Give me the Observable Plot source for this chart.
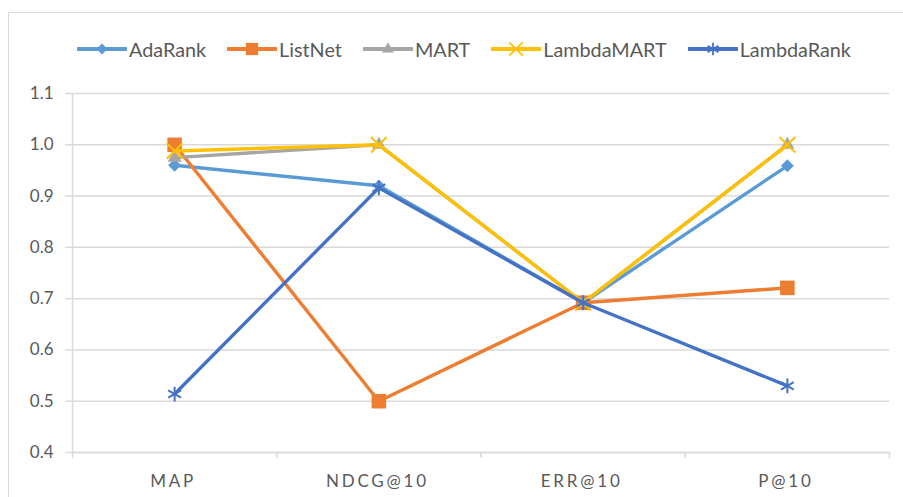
<!DOCTYPE html>
<html>
<head>
<meta charset="utf-8">
<script src="https://cdn.jsdelivr.net/npm/d3@7"></script>
<script src="https://cdn.jsdelivr.net/npm/@observablehq/plot@0.6"></script>
<style>
  html, body { margin: 0; padding: 0; background: #fff; }
  body { width: 903px; height: 497px; overflow: hidden; position: relative; font-family: Lato, "Open Sans", sans-serif; }
  #frame { position: absolute; left: 8px; top: 12px; width: 1000px; height: 1000px; border: 1.5px solid #d9d9d9; box-sizing: border-box; }
  #legend { position: absolute; left: 77px; top: 35px; height: 28px; display: flex; align-items: center; gap: 21px; font-size: 19.8px; color: #595959; }
  .item { display: flex; align-items: center; gap: 2px; }
  #chart { position: absolute; left: 0; top: 70px; }
  #chart g[aria-label="x-axis tick label"] text { letter-spacing: 2.8px; }
</style>
</head>
<body>
<div id="frame"></div>
<div id="legend"></div>
<div id="chart"></div>
<script>
const categories = ["MAP", "NDCG@10", "ERR@10", "P@10"];
const seriesNames = ["AdaRank", "ListNet", "MART", "LambdaMART", "LambdaRank"];
const adaRank    = [0.960, 0.920, 0.692, 0.959];
const listNet    = [1.000, 0.500, 0.692, 0.721];
const mart       = [0.975, 1.000, 0.692, 1.000];
const lambdaMART = [0.988, 1.000, 0.692, 1.000];
const lambdaRank = [0.514, 0.916, 0.692, 0.530];
const yTicks = [0.4, 0.5, 0.6, 0.7, 0.8, 0.9, 1.0, 1.1];

const colors  = ["#5B9BD5", "#ED7D31", "#A5A5A5", "#FFC000", "#4472C4"];
const symbols = ["diamond2", "square", "triangle", "times", "asterisk"];
const radii   = [5.8, 8.2, 5.2, 7.2, 7];
const filled  = [true, true, true, false, false];

const valueArrays = [adaRank, listNet, mart, lambdaMART, lambdaRank];
const data = [];
seriesNames.forEach((s, si) => {
  valueArrays[si].forEach((v, ci) => data.push({series: s, idx: ci, cat: categories[ci], value: v}));
});

const grid = "#d9d9d9";
const boundaries = d3.range(categories.length + 1).map(i => i - 0.5);

const marks = [
  Plot.gridY(yTicks, {stroke: grid, strokeOpacity: 1, strokeWidth: 1.5}),
  Plot.axisY({ticks: yTicks, tickFormat: d3.format(".1f"), tickSize: 7, tickPadding: 12, stroke: grid, strokeOpacity: 1, strokeWidth: 1.5, fontSize: 17, fill: "#595959", label: null}),
  Plot.ruleX([-0.5], {y1: 0.4, y2: 1.1, stroke: grid, strokeWidth: 1.5}),
  Plot.ruleY([0.4], {stroke: grid, strokeWidth: 1.5}),
  Plot.axisX({ticks: boundaries, tickFormat: () => "", tickSize: 6, stroke: grid, strokeOpacity: 1, strokeWidth: 1.5, label: null}),
  Plot.axisX({ticks: d3.range(categories.length), tickFormat: i => categories[i], tickSize: 0, tickPadding: 22, fontSize: 17, fill: "#595959", dx: -1.5, label: null})
];

seriesNames.forEach((s, si) => {
  const sub = data.filter(d => d.series === s);
  marks.push(Plot.line(sub, {x: "idx", y: "value", stroke: colors[si], strokeWidth: 3.4, strokeLinejoin: "round", strokeLinecap: "round"}));
  marks.push(Plot.dot(sub, filled[si]
    ? {x: "idx", y: "value", symbol: () => symbols[si], r: radii[si], fill: colors[si], stroke: "none"}
    : {x: "idx", y: "value", symbol: () => symbols[si], r: radii[si], stroke: colors[si], strokeWidth: 2, fill: "none"}));
});

const chart = Plot.plot({
  width: 903,
  height: 427,
  marginLeft: 72,
  marginRight: 14,
  marginTop: 23,
  marginBottom: 45,
  style: {fontFamily: "Lato, 'Open Sans', sans-serif", background: "transparent", overflow: "visible"},
  x: {type: "linear", domain: [-0.5, categories.length - 0.5], axis: null},
  y: {domain: [0.4, 1.1], axis: null},
  symbol: {type: "identity"},
  marks
});
document.getElementById("chart").appendChild(chart);

// legend
const legend = document.getElementById("legend");
const symMap = {diamond2: d3.symbolDiamond2, square: d3.symbolSquare, triangle: d3.symbolTriangle, times: d3.symbolTimes, asterisk: d3.symbolAsterisk};
seriesNames.forEach((s, si) => {
  const item = document.createElement("div");
  item.className = "item";
  const svg = d3.create("svg").attr("width", 50).attr("height", 20);
  svg.append("line").attr("x1", 1).attr("x2", 49).attr("y1", 10).attr("y2", 10)
    .attr("stroke", colors[si]).attr("stroke-width", 4).attr("stroke-linecap", "round");
  const r = radii[si] * 0.85;
  const p = svg.append("path").attr("transform", "translate(25,10)")
    .attr("d", d3.symbol(symMap[symbols[si]], Math.PI * r * r)());
  if (filled[si]) p.attr("fill", colors[si]);
  else p.attr("fill", "none").attr("stroke", colors[si]).attr("stroke-width", 1.8);
  item.appendChild(svg.node());
  const t = document.createElement("span");
  t.textContent = s;
  item.appendChild(t);
  legend.appendChild(item);
});
</script>
</body>
</html>
